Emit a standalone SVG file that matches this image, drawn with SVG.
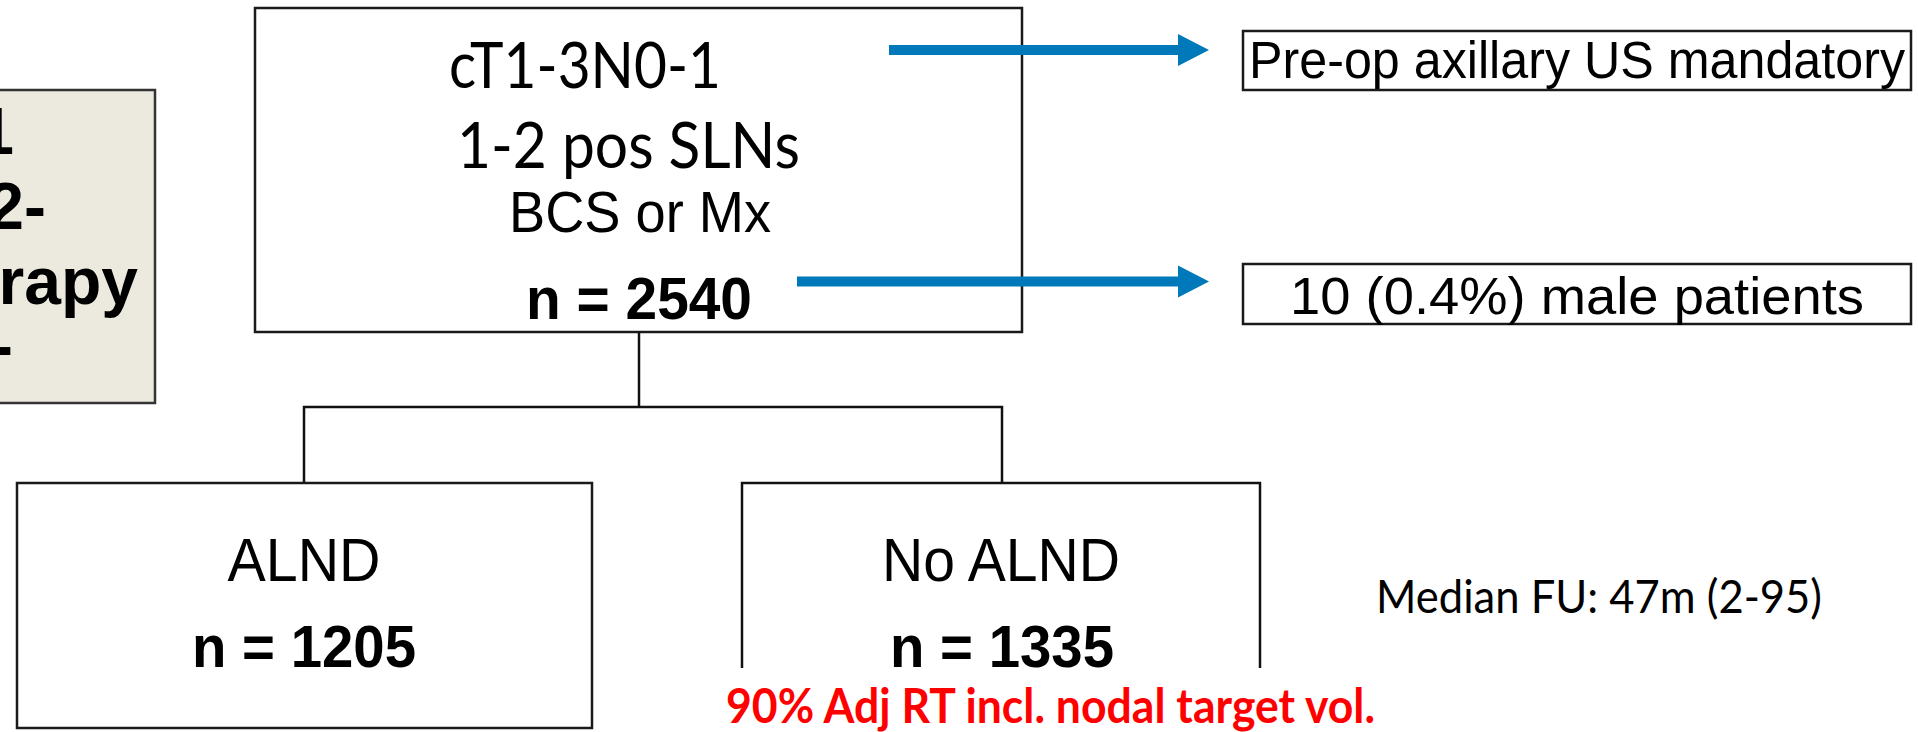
<svg xmlns="http://www.w3.org/2000/svg" width="1918" height="732" viewBox="0 0 1918 732">
  <style>
    .box { fill: #ffffff; stroke: #1a1a1a; stroke-width: 2.5; }
    .conn { fill: none; stroke: #111111; stroke-width: 2.5; }
    .arrow { stroke: #0079BA; stroke-width: 10; fill: none; }
    .arial { font-family: "Liberation Sans", Arial, sans-serif; fill: #000; }
    .calibri { font-family: Lato, "Open Sans", sans-serif; fill: #000; }
    .bold { font-weight: bold; }
  </style>
  <defs>
    <marker id="head" markerUnits="userSpaceOnUse" markerWidth="32" markerHeight="34" refX="0" refY="16" orient="auto" viewBox="0 0 32 32">
      <path d="M0,0 L31,16 L0,32 Z" fill="#0079BA"/>
    </marker>
  </defs>

  <g id="left-box">
    <rect x="-3" y="90" width="158" height="313" fill="#ECE9DF" stroke="#333333" stroke-width="2.5"/>
    <text class="arial bold" font-size="66" x="14" y="154" text-anchor="end">1</text>
    <text class="arial bold" font-size="66" x="46" y="229" text-anchor="end">2-</text>
    <text class="arial bold" font-size="66" x="138" y="304" text-anchor="end">rapy</text>
    <text class="arial bold" font-size="66" x="13" y="368" text-anchor="end">-</text>
  </g>

  <g id="main-box">
    <rect class="box" x="255" y="8" width="767" height="324"/>
    <text class="calibri" font-size="63" x="449" y="88" textLength="272" lengthAdjust="spacingAndGlyphs">cT1-3N0-1</text>
    <text class="calibri" font-size="63" x="457" y="168" textLength="343" lengthAdjust="spacingAndGlyphs">1-2 pos SLNs</text>
    <text class="arial" font-size="58" x="640" y="232" text-anchor="middle" textLength="262" lengthAdjust="spacingAndGlyphs">BCS or Mx</text>
    <text class="arial bold" font-size="60" x="639" y="319" text-anchor="middle" textLength="226" lengthAdjust="spacingAndGlyphs">n = 2540</text>
  </g>

  <g id="preop-box">
    <rect class="box" x="1243" y="31" width="668" height="59"/>
    <text class="arial" font-size="51" x="1577" y="78" text-anchor="middle" textLength="656" lengthAdjust="spacingAndGlyphs">Pre-op axillary US mandatory</text>
  </g>

  <g id="male-box">
    <rect class="box" x="1243" y="264" width="668" height="60"/>
    <text class="arial" font-size="52" x="1577" y="314" text-anchor="middle" textLength="574" lengthAdjust="spacingAndGlyphs">10 (0.4%) male patients</text>
  </g>

  <g id="alnd-box">
    <rect class="box" x="17" y="483" width="575" height="245"/>
    <text class="arial" font-size="62" x="304" y="581" text-anchor="middle" textLength="153" lengthAdjust="spacingAndGlyphs">ALND</text>
    <text class="arial bold" font-size="59" x="304" y="667" text-anchor="middle" textLength="224" lengthAdjust="spacingAndGlyphs">n = 1205</text>
  </g>

  <g id="no-alnd-box">
    <path class="conn" d="M742,668 V483 H1260 V668"/>
    <text class="arial" font-size="62" x="1001" y="581" text-anchor="middle" textLength="238" lengthAdjust="spacingAndGlyphs">No ALND</text>
    <text class="arial bold" font-size="59" x="1002" y="667" text-anchor="middle" textLength="224" lengthAdjust="spacingAndGlyphs">n = 1335</text>
  </g>

  <g id="median-fu">
    <text class="calibri" font-size="46" x="1376" y="613" textLength="446" lengthAdjust="spacingAndGlyphs">Median FU: 47m (2-95)</text>
  </g>

  <g id="rt-note">
    <text class="calibri bold" font-size="48" x="726" y="723" style="fill:#FF0000" textLength="649" lengthAdjust="spacingAndGlyphs">90% Adj RT incl. nodal target vol.</text>
  </g>

  <g id="connectors">
    <path class="conn" d="M639,332 V407"/>
    <path class="conn" d="M304,483 V407 H1002 V483"/>
    <line class="arrow" x1="889" y1="50" x2="1178" y2="50" marker-end="url(#head)"/>
    <line class="arrow" x1="797" y1="281.5" x2="1178" y2="281.5" marker-end="url(#head)"/>
  </g>
</svg>
